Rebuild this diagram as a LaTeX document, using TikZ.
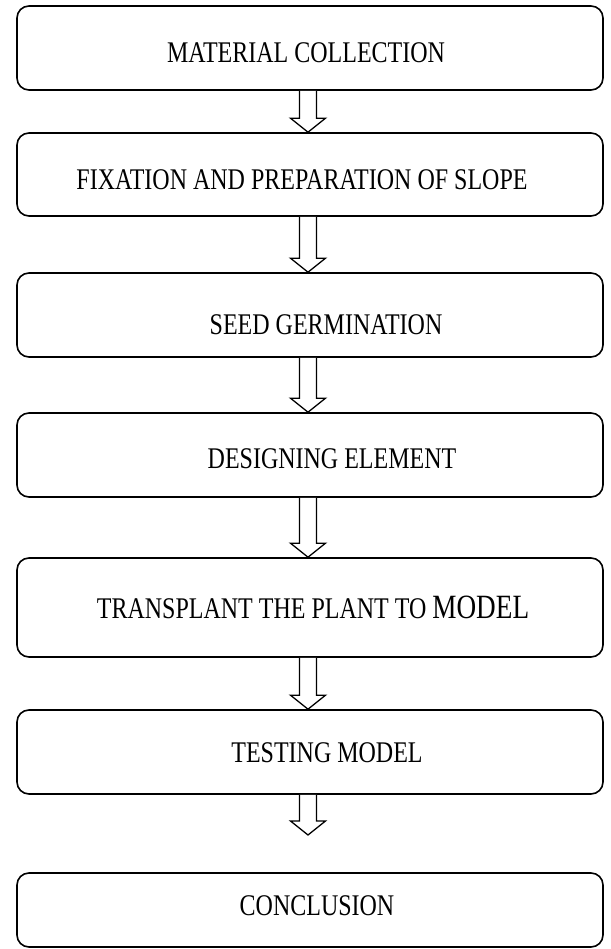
\documentclass[tikz,border=0pt]{standalone}
\usepackage{fontspec}
\usepackage{graphicx}
\setmainfont{Liberation Serif}
\usetikzlibrary{calc}
\tikzset{
  stepbox/.style={draw=black, line width=1.6pt, rounded corners=12pt, fill=white, inner sep=0pt},
  steptext/.style={anchor=base, inner sep=0pt, font=\fontsize{30}{32}\selectfont},
  barrow/.style={draw=black, line width=1.3pt, fill=white, line join=miter}
}
\newcommand\sq[1]{\scalebox{0.80}[1]{#1}}
\newcommand\blockarr[2]{%
  \draw[barrow] let \p1=(#1), \p2=(#2) in
    (\x1-8.5pt,\y1) -- (\x1-8.5pt,\y2+14pt) -- (\x1-17.5pt,\y2+14pt) -- (\x1,\y2)
    -- (\x1+17.5pt,\y2+14pt) -- (\x1+8.5pt,\y2+14pt) -- (\x1+8.5pt,\y1);}
\begin{document}
\begin{tikzpicture}[x=1pt,y=-1pt]
\useasboundingbox[fill=white] (0,0) rectangle (610,949);
% boxes
\node[stepbox, minimum width=586pt, minimum height=84pt] (b1) at (310,48) {};
\node[stepbox, minimum width=586pt, minimum height=83pt] (b2) at (310,174.5) {};
\node[stepbox, minimum width=586pt, minimum height=84pt] (b3) at (310,315) {};
\node[stepbox, minimum width=586pt, minimum height=84pt] (b4) at (310,455) {};
\node[stepbox, minimum width=586pt, minimum height=99pt] (b5) at (310,607.5) {};
\node[stepbox, minimum width=586pt, minimum height=84pt] (b6) at (310,752) {};
\node[stepbox, minimum width=586pt, minimum height=74pt] (b7) at (310,910) {};
% texts
\node[steptext] (t1) at (306,63) {\sq{MATERIAL COLLECTION}};
\node[steptext] (t2) at (302,190) {\sq{FIXATION AND PREPARATION OF SLOPE}};
\node[steptext] (t3) at (326,334) {\sq{SEED GERMINATION}};
\node[steptext] (t4) at (332,468) {\sq{DESIGNING ELEMENT}};
\node[steptext] (t5) at (313,618) {\sq{TRANSPLANT THE PLANT TO {\fontsize{34}{36}\selectfont MODEL}}};
\node[steptext] (t6) at (327,762) {\sq{TESTING MODEL}};
\node[steptext] (t7) at (317,915) {\sq{CONCLUSION}};
% arrows
\coordinate (a6tip) at (308,835);
\blockarr{$(b1.south)+(-2,0)$}{$(b2.north)+(-2,0)$}
\blockarr{$(b2.south)+(-2,0)$}{$(b3.north)+(-2,0)$}
\blockarr{$(b3.south)+(-2,0)$}{$(b4.north)+(-2,0)$}
\blockarr{$(b4.south)+(-2,0)$}{$(b5.north)+(-2,0)$}
\blockarr{$(b5.south)+(-2,0)$}{$(b6.north)+(-2,0)$}
\blockarr{$(b6.south)+(-2,0)$}{a6tip}
\end{tikzpicture}
\end{document}
